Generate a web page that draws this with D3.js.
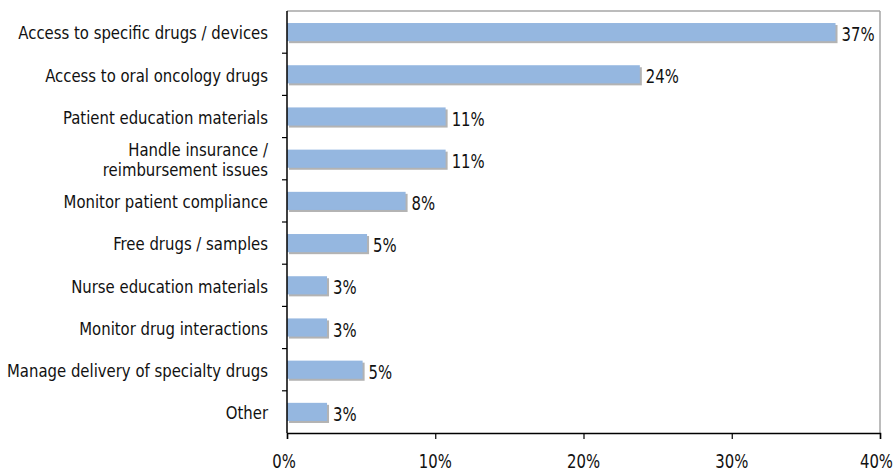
<!DOCTYPE html>
<html><head><meta charset="utf-8">
<script src="https://cdn.jsdelivr.net/npm/d3@7"></script>
<style>body{margin:0;background:#fff}text{font-family:"DejaVu Sans Condensed","Liberation Sans Narrow",sans-serif}</style>
</head><body><svg id="c" width="894" height="471"></svg>
<script>
const categories = ["Access to specific drugs / devices","Access to oral oncology drugs","Patient education materials","Handle insurance /\nreimbursement issues","Monitor patient compliance","Free drugs / samples","Nurse education materials","Monitor drug interactions","Manage delivery of specialty drugs","Other"];
const values = [37.0, 23.8, 10.7, 10.7, 8.0, 5.4, 2.7, 2.7, 5.1, 2.7];
const valueLabels = ["37%","24%","11%","11%","8%","5%","3%","3%","5%","3%"];
const xTicks = [0,10,20,30,40];

const svg = d3.select("#c");
const m = {l:287, r:880, t:11, b:433};
const x = d3.scaleLinear().domain([0,40]).range([m.l, m.r]);
const y = d3.scaleBand().domain(categories).range([m.t, m.b]).paddingInner(0.57).paddingOuter(0.285);
const yb = d3.scaleBand().domain(categories).range([m.t, m.b]);
const SX_NUM = 0.87, SX_CAT = 0.92;

// frame
svg.append("line").attr("x1",m.l).attr("x2",m.r).attr("y1",m.t).attr("y2",m.t).attr("stroke","#a6a6a6").attr("stroke-width",1.5);
svg.append("line").attr("x1",m.r).attr("x2",m.r).attr("y1",m.t).attr("y2",m.b).attr("stroke","#a6a6a6").attr("stroke-width",1.5);

const g = svg.append("g");
g.selectAll("rect.s").data(values).join("rect").attr("class","s")
 .attr("x", x(0)+2).attr("y",(d,i)=>y(categories[i])+2)
 .attr("width", d=>x(d)-x(0)).attr("height", y.bandwidth()).attr("fill","#b3b3b3");
g.selectAll("rect.b").data(values).join("rect").attr("class","b")
 .attr("x", x(0)).attr("y",(d,i)=>y(categories[i]))
 .attr("width", d=>x(d)-x(0)).attr("height", y.bandwidth()).attr("fill","#95b7e0");
g.selectAll("text.v").data(values).join("text").attr("class","v")
 .attr("transform",(d,i)=>`translate(${x(d)+6},${y(categories[i])+y.bandwidth()})scale(${SX_NUM},1)`)
 .attr("font-size",19).attr("fill","#111").text((d,i)=>valueLabels[i]);

// category labels
categories.forEach(c=>{
  const lines = c.split("\n");
  const cy = yb(c)+yb.bandwidth()/2;
  const t = svg.append("text").attr("text-anchor","end").attr("font-size",18).attr("fill","#111")
    .attr("transform",`translate(268,${cy+1})scale(${SX_CAT},1)`);
  lines.forEach((l,k)=>{
    t.append("tspan").attr("x",0).attr("y", (k-(lines.length-1)/2)*20).attr("dy","0.35em").text(l);
  });
});

// left axis with ticks at band boundaries
svg.append("line").attr("x1",m.l).attr("x2",m.l).attr("y1",m.t).attr("y2",m.b).attr("stroke","#000").attr("stroke-width",1.5);
const bounds = d3.range(1, categories.length).map(i=>yb(categories[i]));
svg.selectAll("line.yt").data(bounds).join("line").attr("class","yt")
 .attr("x1",m.l-5).attr("x2",m.l).attr("y1",d=>d).attr("y2",d=>d).attr("stroke","#000").attr("stroke-width",1.2);

// bottom axis
const xa = d3.axisBottom(x).tickValues(xTicks).tickFormat("").tickSize(6);
const ax = svg.append("g").attr("transform",`translate(0,${m.b})`).call(xa);
ax.select(".domain").attr("stroke","#000").attr("stroke-width",1.5);
ax.selectAll(".tick line").attr("stroke","#000").attr("stroke-width",1.2);
svg.selectAll("text.xt").data(xTicks).join("text").attr("class","xt")
 .attr("text-anchor",(d,i)=> i===xTicks.length-1 ? "end" : "middle")
 .attr("transform",(d,i)=>`translate(${i===xTicks.length-1 ? 893 : x(d)-(i===0?3:0)},468)scale(${SX_NUM},1)`)
 .attr("font-size",19).attr("fill","#111").text(d=>d+"%");
</script></body></html>
